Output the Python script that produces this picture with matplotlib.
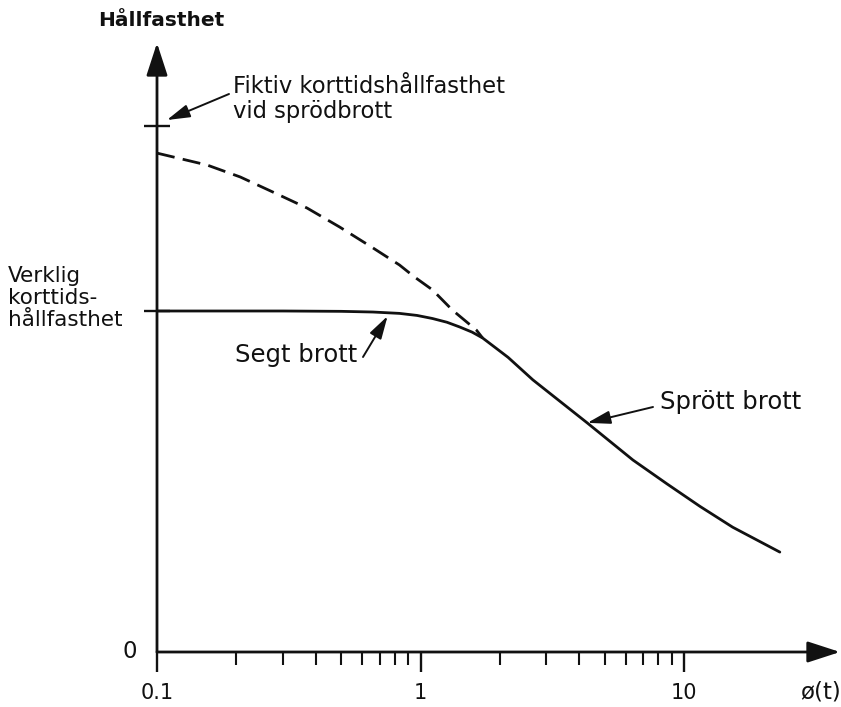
import matplotlib
matplotlib.use("Agg")
import matplotlib.pyplot as plt
from matplotlib.patches import ArrowStyle
from matplotlib import font_manager

# --- data -------------------------------------------------------------
# Time axis (log scale) and relative strength values
solid_t = [0.1, 0.3, 0.5, 0.66, 0.832, 0.97, 1.11, 1.26, 1.41, 1.57, 1.72, 1.95,
           2.15, 2.67, 4.29, 6.40, 8.62, 11.5, 15.3, 23.1]
solid_s = [1.0, 1.0, 0.999, 0.997, 0.993, 0.987, 0.978, 0.967, 0.953, 0.938, 0.921, 0.889,
           0.864, 0.798, 0.672, 0.563, 0.493, 0.427, 0.366, 0.293]

dashed_t = [0.1, 0.155, 0.207, 0.275, 0.371, 0.494, 0.660, 0.832, 0.948, 1.11, 1.32, 1.63, 1.72]
dashed_s = [1.463, 1.428, 1.393, 1.349, 1.302, 1.246, 1.185, 1.135, 1.100, 1.062, 1.003, 0.944, 0.921]

verklig_level = 1.0
fiktiv_level = 1.543

major_ticks = [0.1, 1, 10]
major_labels = ["0.1", "1", "10"]
minor_ticks = [0.2, 0.3, 0.4, 0.5, 0.6, 0.7, 0.8, 0.9,
               2, 3, 4, 5, 6, 7, 8, 9]

# --- style ------------------------------------------------------------
names = {f.name for f in font_manager.fontManager.ttflist}
family = "Liberation Sans Narrow" if "Liberation Sans Narrow" in names else "DejaVu Sans"
plt.rcParams["font.family"] = [family, "DejaVu Sans"]
plt.rcParams["lines.scale_dashes"] = False

W, H = 841, 707
fig = plt.figure(figsize=(W / 100, H / 100), dpi=100)

x0_px, x1_px = 157, 840
y0_px, y1_px = 652, 43
ax = fig.add_axes([x0_px / W, (H - y0_px) / H, (x1_px - x0_px) / W, (y0_px - y1_px) / H])
ax.set_xscale("log")
decade_px = 263.5
ax.set_xlim(0.1, 0.1 * 10 ** ((x1_px - x0_px) / decade_px))
ax.set_ylim(0, (y0_px - y1_px) / 341.0)
for s in ax.spines.values():
    s.set_visible(False)
ax.patch.set_visible(False)

LW = 2.0
ink = "#111111"

# axes with arrow heads
axis_arrow = ArrowStyle("-|>", head_length=20, head_width=6.5)
for tip in [(1, 0), (0, 1)]:
    ax.annotate("", xy=tip, xytext=(0, 0), xycoords="axes fraction",
                arrowprops=dict(arrowstyle=axis_arrow, mutation_scale=1, lw=LW,
                                color=ink, shrinkA=0, shrinkB=0), annotation_clip=False)

# ticks
ax.set_xticks(major_ticks)
ax.set_xticklabels(major_labels)
ax.set_xticks(minor_ticks, minor=True)
ax.set_xticklabels([], minor=True)
ax.tick_params(axis="x", which="major", direction="out", length=14.4, width=1.7,
               color=ink, labelsize=15, pad=8, labelcolor=ink)
ax.tick_params(axis="x", which="minor", direction="out", length=9.4, width=1.5, color=ink)

ax.set_yticks([verklig_level, fiktiv_level])
ax.set_yticklabels([])
ax.tick_params(axis="y", which="major", direction="inout", length=19, width=1.7, color=ink)
ax.tick_params(axis="y", which="minor", left=False)

# curves
ax.plot(solid_t, solid_s, color=ink, lw=LW, solid_capstyle="round",
        solid_joinstyle="round", clip_on=False)
ax.plot(dashed_t, dashed_s, color=ink, lw=LW, ls=(0, (13, 6)), clip_on=False)

# text
fs = 16.5
ax.text(-0.04, 0, "0", transform=ax.get_yaxis_transform(), ha="center", va="center",
        fontsize=fs, color=ink)
fig.text(821 / W, 1 - 692 / H, "ø(t)", ha="center", va="center", fontsize=fs, color=ink)
fig.text(161 / W, 1 - 20 / H, "Hållfasthet", ha="center", va="center", fontsize=14.5,
         fontweight="bold", color=ink)
fig.text(8 / W, 1 - 298 / H, "Verklig\nkorttids-\nhållfasthet", ha="left", va="center",
         fontsize=15.5, linespacing=1.1, color=ink)
fig.text(233 / W, 1 - 99 / H, "Fiktiv korttidshållfasthet\nvid sprödbrott", ha="left",
         va="center", fontsize=16.3, linespacing=1.15, color=ink)
fig.text(235 / W, 1 - 355 / H, "Segt brott", ha="left", va="center", fontsize=17.5, color=ink)
fig.text(660 / W, 1 - 402 / H, "Sprött brott", ha="left", va="center", fontsize=17.5, color=ink)

# pointer arrows
ptr = ArrowStyle("-|>", head_length=14, head_width=4)
pointers = [((0.109, 1.560), (229, 94)),
            ((0.75, 0.985), (363, 357)),
            ((4.3, 0.672), (653, 407))]
for tip, tail in pointers:
    ax.annotate("", xy=tip, xycoords="data",
                xytext=(tail[0], H - tail[1]), textcoords="figure pixels",
                arrowprops=dict(arrowstyle=ptr, mutation_scale=1, lw=1.4, color=ink,
                                shrinkA=0, shrinkB=0), annotation_clip=False)

fig.savefig("out.png", dpi=100, facecolor="white")
